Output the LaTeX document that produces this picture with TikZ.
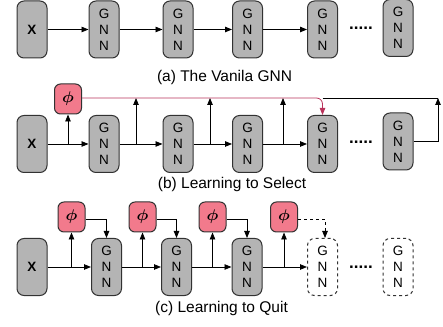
\documentclass[tikz,border=0pt]{standalone}
\usepackage{fontspec}
\setmainfont{Liberation Sans}
\usepackage{amsmath}
\usepackage{amsbsy}
\usepackage{graphicx}
\usepackage{xcolor}
\usepackage{tikz}
\usetikzlibrary{arrows.meta, positioning, calc}
\definecolor{boxgray}{RGB}{180, 180, 180}
\definecolor{boxedge}{RGB}{50, 50, 50}
\definecolor{phipink}{RGB}{242, 122, 140}
\definecolor{selred}{RGB}{185, 50, 90}
\newcommand{\phisym}{\scalebox{1.65}[1.55]{$\boldsymbol{\phi}$}}

\begin{document}
\begin{tikzpicture}[x=1pt,y=1pt,
  >={Triangle[length=7pt,width=5.5pt]},
  conn/.style={draw=black, line width=0.8pt},
  block/.style={draw=boxedge, line width=1pt, fill=boxgray, rounded corners=7pt,
    minimum width=30pt, minimum height=57pt, inner sep=0pt, align=center,
    font=\fontsize{13.5}{16}\selectfont},
  ghost/.style={block, fill=white, dashed},
  phibox/.style={draw=boxedge, line width=1pt, fill=phipink, rounded corners=6pt,
    minimum width=27pt, minimum height=30pt, inner sep=0pt},
  dots/.style={inner sep=0pt, font=\fontsize{17}{17}\selectfont\bfseries},
  caption/.style={font=\fontsize{15.5}{18}\selectfont}]
\useasboundingbox (0,0) rectangle (443,326);
% (a) Vanila
\node[block] (xa) at (32,296.5) {\textbf{X}};
\node[block] (ga1) at (104,296.5) {G\\N\\N};
\node[block] (ga2) at (178,296.5) {G\\N\\N};
\node[block] (ga3) at (247.5,296.5) {G\\N\\N};
\node[block] (ga4) at (322.5,296.5) {G\\N\\N};
\node[dots] (dotsa) at (361,298) {.....};
\node[block] (ga5) at (398,298) {G\\N\\N};
\draw[conn,->] (xa) -- (ga1);
\draw[conn,->] (ga1) -- (ga2);
\draw[conn,->] (ga2) -- (ga3);
\draw[conn,->] (ga3) -- (ga4);
\node[caption] (capa) at (224.5,249) {(a) The Vanila GNN};
% (b) Select
\node[block] (xb) at (32,182) {\textbf{X}};
\node[block] (gb1) at (104,182) {G\\N\\N};
\node[block] (gb2) at (178,182) {G\\N\\N};
\node[block] (gb3) at (247.5,182) {G\\N\\N};
\node[block] (gb4) at (322.5,182) {G\\N\\N};
\node[dots] (dotsb) at (361,184) {.....};
\node[block] (gb5) at (398,184.5) {G\\N\\N};
\node[phibox] (phib) at (68,227) {\phisym};
\coordinate (jb0) at (68,182);
\coordinate (jb1) at (136,182);
\coordinate (jb2) at (210,182);
\coordinate (jb3) at (283,182);
\coordinate (topb) at (438,228);
\draw[conn,->] (xb) -- (gb1);
\draw[conn,->] (gb1) -- (gb2);
\draw[conn,->] (gb2) -- (gb3);
\draw[conn,->] (gb3) -- (gb4);
\draw[conn,->] (jb0) -- (phib);
\draw[conn,->] (jb1) -- (jb1 |- topb);
\draw[conn,->] (jb2) -- (jb2 |- topb);
\draw[conn,->] (jb3) -- (jb3 |- topb);
\draw[conn] (gb4.north |- topb) -- (topb);
\draw[conn,->] (gb5.east) -| (topb);
\draw[conn,draw=selred,color=selred,rounded corners=6pt,->]
  (phib.east |- topb) -| (gb4.north);
\node[caption] (capb) at (232,142) {(b) Learning to Select};
% (c) Quit
\node[block] (xc) at (32,59) {\textbf{X}};
\node[block] (gc1) at (106.5,59) {G\\N\\N};
\node[block] (gc2) at (176.5,59) {G\\N\\N};
\node[block] (gc3) at (247,59) {G\\N\\N};
\node[ghost] (gc4) at (322.5,59) {G\\N\\N};
\node[dots] (dotsc) at (361,59) {.....};
\node[ghost] (gc5) at (398,59) {G\\N\\N};
\node[phibox] (phic1) at (71.5,109) {\phisym};
\node[phibox] (phic2) at (142.5,109) {\phisym};
\node[phibox] (phic3) at (212.5,109) {\phisym};
\node[phibox] (phic4) at (284,109) {\phisym};
\coordinate (jc1) at (71.5,59);
\coordinate (jc2) at (142.5,59);
\coordinate (jc3) at (212.5,59);
\coordinate (jc4) at (284,59);
\draw[conn,->] (xc) -- (gc1);
\draw[conn,->] (gc1) -- (gc2);
\draw[conn,->] (gc2) -- (gc3);
\draw[conn,->] (gc3) -- (gc4);
\draw[conn,->] (jc1) -- (phic1);
\draw[conn,->] (jc2) -- (phic2);
\draw[conn,->] (jc3) -- (phic3);
\draw[conn,->] (jc4) -- (phic4);
\draw[conn,->] ([yshift=-2pt]phic1.east) -| (gc1.north);
\draw[conn,->] ([yshift=-2pt]phic2.east) -| (gc2.north);
\draw[conn,->] ([yshift=-2pt]phic3.east) -| (gc3.north);
\draw[conn,dashed,->] ([yshift=-2pt]phic4.east) -| ([xshift=2.5pt]gc4.north);
\node[caption] (capc) at (221.5,18) {(c) Learning to Quit};
\end{tikzpicture}
\end{document}
